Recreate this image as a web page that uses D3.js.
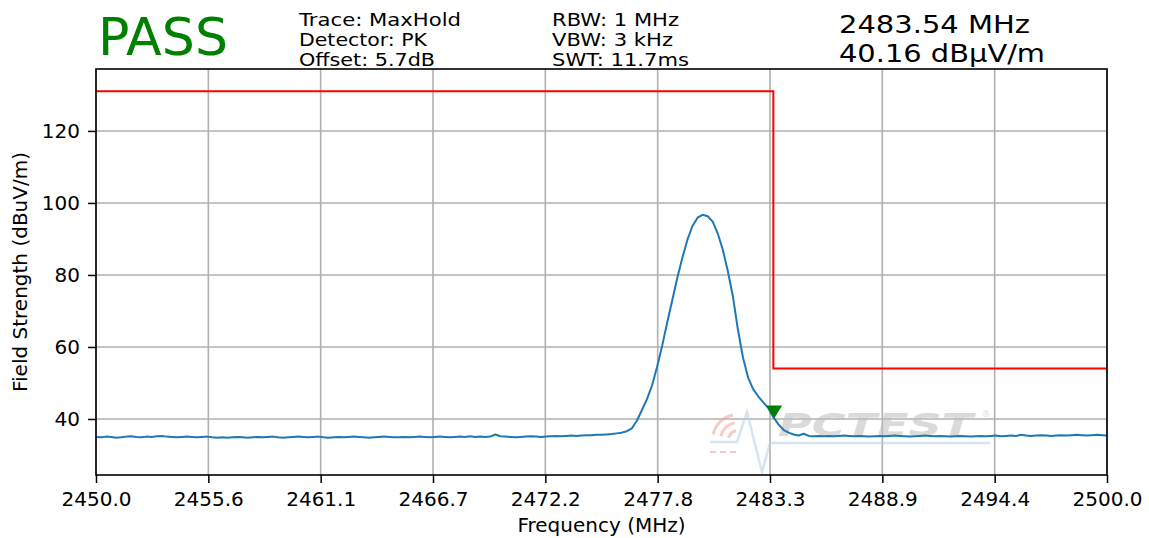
<!DOCTYPE html>
<html>
<head>
<meta charset="utf-8">
<script src="https://cdn.jsdelivr.net/npm/d3@7"></script>
<style>
  body { margin: 0; background: #fff; }
  svg text { font-family: "DejaVu Sans", sans-serif; }
</style>
</head>
<body>
<svg id="chart" width="1149" height="538"></svg>
<script>
// Sweep: 201 points, 2450 - 2500 MHz, 0.25 MHz apart
const sweepStart = 2450;
const sweepStep = 0.25;
const traceLevels = [
  35.0, 34.9, 35.1, 35.0, 34.8, 34.9, 35.1, 35.2, 35.0, 34.9,
  35.1, 35.0, 35.2, 35.3, 35.1, 35.0, 34.9, 35.0, 35.1, 35.0,
  34.9, 35.0, 35.1, 34.9, 34.8, 34.9, 34.8, 34.9, 35.0, 34.9,
  34.8, 34.9, 35.0, 34.9, 35.0, 35.1, 34.9, 34.8, 34.9, 35.0,
  35.1, 35.0, 34.9, 35.0, 35.1, 34.9, 34.8, 34.9, 35.0, 34.9,
  35.0, 35.1, 35.0, 34.9, 34.8, 34.9, 35.0, 35.1, 35.0, 34.9,
  34.9, 35.0, 34.9, 35.0, 35.1, 35.0, 34.9, 35.0, 35.1, 35.0,
  34.9, 35.0, 35.1, 35.0, 35.2, 35.0, 35.1, 35.0, 35.1, 35.7,
  35.2, 35.1, 35.0, 34.9, 35.0, 35.1, 35.2, 35.1, 35.0, 35.1,
  35.2, 35.3, 35.2, 35.3, 35.4, 35.3, 35.4, 35.5, 35.5, 35.6,
  // 2475.00 - 2485.00
  35.6, 35.7, 35.8, 36.0, 36.2, 36.6, 37.4, 39.5, 42.5, 45.5,
  49.3, 54.5, 60.3, 66.8, 73.0, 79.2, 84.8, 89.8, 93.6, 95.9,
  96.7, 96.3, 94.8, 91.5, 87.0, 81.0, 74.0, 64.7, 57.0, 51.5,
  48.3, 46.3, 44.6, 43.0, 40.5, 38.5, 37.0, 36.2, 35.7, 35.4,
  35.9,
  // 2485.25 - 2500.00
  35.3, 35.2, 35.3, 35.2, 35.3, 35.2, 35.3, 35.4, 35.3, 35.2,
  35.3, 35.2, 35.1, 35.2, 35.3, 35.2, 35.3, 35.4, 35.3, 35.2,
  35.1, 35.2, 35.3, 35.4, 35.3, 35.2, 35.3, 35.2, 35.1, 35.2,
  35.3, 35.2, 35.1, 35.2, 35.3, 35.2, 35.3, 35.4, 35.2, 35.3,
  35.4, 35.3, 35.6, 35.4, 35.3, 35.4, 35.5, 35.4, 35.3, 35.4,
  35.5, 35.4, 35.5, 35.6, 35.5, 35.4, 35.5, 35.6, 35.5, 35.4
];

// Limit line
const limitFreqs = [2450, 2483.5, 2483.5, 2500];
const limitLevels = [131, 131, 54, 54];

// Marker
const markerFreq = 2483.54;
const markerLevel = 40.16;

// Axes
const xDomain = [2450, 2500];
const yDomain = [24.44, 137.2];
const xTickValues = [2450, 2455.556, 2461.111, 2466.667, 2472.222, 2477.778, 2483.333, 2488.889, 2494.444, 2500];
const yTickValues = [40, 60, 80, 100, 120];

// Header text
const verdict = "PASS";
const infoLeft = ["Trace: MaxHold", "Detector: PK", "Offset: 5.7dB"];
const infoRight = ["RBW: 1 MHz", "VBW: 3 kHz", "SWT: 11.7ms"];
const markerLines = ["2483.54 MHz", "40.16 dB\u00b5V/m"];

// widths the header lines take in the reference
const infoLeftWidths = [162, 128, 136];
const infoRightWidths = [127, 121, 137];
const markerWidths = [191, 206];

const plot = {left: 96, right: 1107, top: 69, bottom: 475};

const svg = d3.select("#chart");

const x = d3.scaleLinear().domain(xDomain).range([plot.left, plot.right]);
const y = d3.scaleLinear().domain(yDomain).range([plot.bottom, plot.top]);

// grid
svg.append("g").selectAll("line")
    .data(xTickValues)
    .enter().append("line")
    .attr("x1", d => x(d)).attr("x2", d => x(d))
    .attr("y1", plot.top).attr("y2", plot.bottom)
    .attr("stroke", "#b0b0b0").attr("stroke-width", 1.6);

svg.append("g").selectAll("line")
    .data(yTickValues)
    .enter().append("line")
    .attr("x1", plot.left).attr("x2", plot.right)
    .attr("y1", d => y(d)).attr("y2", d => y(d))
    .attr("stroke", "#b0b0b0").attr("stroke-width", 1.6);

// watermark (faint logo behind the trace)
const wm = svg.append("g").attr("opacity", 0.55);
[10, 18, 26].forEach(r => {
    wm.append("path")
        .attr("d", d3.arc()({innerRadius: r - 2, outerRadius: r + 1, startAngle: -1.35, endAngle: -0.2}))
        .attr("transform", "translate(738,440)")
        .attr("fill", "#f2a0a0");
});
wm.append("line").attr("x1", 710).attr("x2", 738).attr("y1", 452).attr("y2", 452)
    .attr("stroke", "#f2a0a0").attr("stroke-width", 2).attr("stroke-dasharray", "6,4");
wm.append("path")
    .attr("d", "M710,442 L737,442 L747,412 L762,472 L770,443 L990,443")
    .attr("fill", "none").attr("stroke", "#b8d0ea").attr("stroke-width", 2.5);
wm.append("text")
    .attr("x", 778).attr("y", 436)
    .attr("font-size", 32).attr("font-weight", "bold").attr("font-style", "italic")
    .attr("textLength", 195).attr("lengthAdjust", "spacingAndGlyphs")
    .attr("fill", "#bdbdbd")
    .text("PCTEST");
wm.append("text")
    .attr("x", 982).attr("y", 417).attr("font-size", 8).attr("fill", "#bdbdbd").text("\u00ae");

// limit line
const limitData = limitFreqs.map((f, i) => [f, limitLevels[i]]);
svg.append("path")
    .datum(limitData)
    .attr("fill", "none")
    .attr("stroke", "#ff0000")
    .attr("stroke-width", 2)
    .attr("d", d3.line().x(d => x(d[0])).y(d => y(d[1])));

// trace
const traceData = traceLevels.map((v, i) => [sweepStart + i * sweepStep, v]);
svg.append("path")
    .datum(traceData)
    .attr("fill", "none")
    .attr("stroke", "#1f77b4")
    .attr("stroke-width", 2)
    .attr("stroke-linejoin", "round")
    .attr("d", d3.line().x(d => x(d[0])).y(d => y(d[1])));

// marker (tip on the point)
const mx = x(markerFreq), my = y(markerLevel);
svg.append("path")
    .attr("d", `M${mx - 8},${my - 13} L${mx + 8},${my - 13} L${mx},${my} Z`)
    .attr("fill", "#008000");

// axes
const xAxis = d3.axisBottom(x)
    .tickValues(xTickValues)
    .tickFormat(d3.format(".1f"))
    .tickSize(8).tickSizeOuter(0).tickPadding(9);
const yAxis = d3.axisLeft(y)
    .tickValues(yTickValues)
    .tickSize(8).tickSizeOuter(0).tickPadding(8);

const gx = svg.append("g").attr("transform", `translate(0,${plot.bottom})`).call(xAxis);
const gy = svg.append("g").attr("transform", `translate(${plot.left},0)`).call(yAxis);
[gx, gy].forEach(g => {
    g.select(".domain").remove();
    g.selectAll(".tick line").attr("stroke", "#000").attr("stroke-width", 1.5);
    g.selectAll(".tick text").attr("font-size", 20).attr("fill", "#000")
        .attr("font-family", "DejaVu Sans");
});

// frame
svg.append("rect")
    .attr("x", plot.left).attr("y", plot.top)
    .attr("width", plot.right - plot.left).attr("height", plot.bottom - plot.top)
    .attr("fill", "none").attr("stroke", "#000").attr("stroke-width", 1.6);

// axis labels
svg.append("text")
    .attr("x", (plot.left + plot.right) / 2).attr("y", 532)
    .attr("text-anchor", "middle").attr("font-size", 20)
    .text("Frequency (MHz)");
svg.append("text")
    .attr("transform", `translate(27,${(plot.top + plot.bottom) / 2}) rotate(-90)`)
    .attr("text-anchor", "middle").attr("font-size", 20)
    .text("Field Strength (dBuV/m)");

// header
svg.append("text")
    .attr("x", 98).attr("y", 55)
    .attr("font-size", 52).attr("fill", "#008000")
    .attr("textLength", 130).attr("lengthAdjust", "spacingAndGlyphs")
    .text(verdict);

function infoBlock(lines, widths, x0, y0, step, size) {
    svg.append("g").selectAll("text")
        .data(lines).enter().append("text")
        .attr("x", x0).attr("y", (d, i) => y0 + i * step)
        .attr("font-size", size)
        .attr("textLength", (d, i) => widths[i])
        .attr("lengthAdjust", "spacingAndGlyphs")
        .text(d => d);
}

infoBlock(infoLeft, infoLeftWidths, 299, 26, 20, 17);
infoBlock(infoRight, infoRightWidths, 552, 26, 20, 17);
infoBlock(markerLines, markerWidths, 839, 33, 29, 24.8);
</script>
</body>
</html>
